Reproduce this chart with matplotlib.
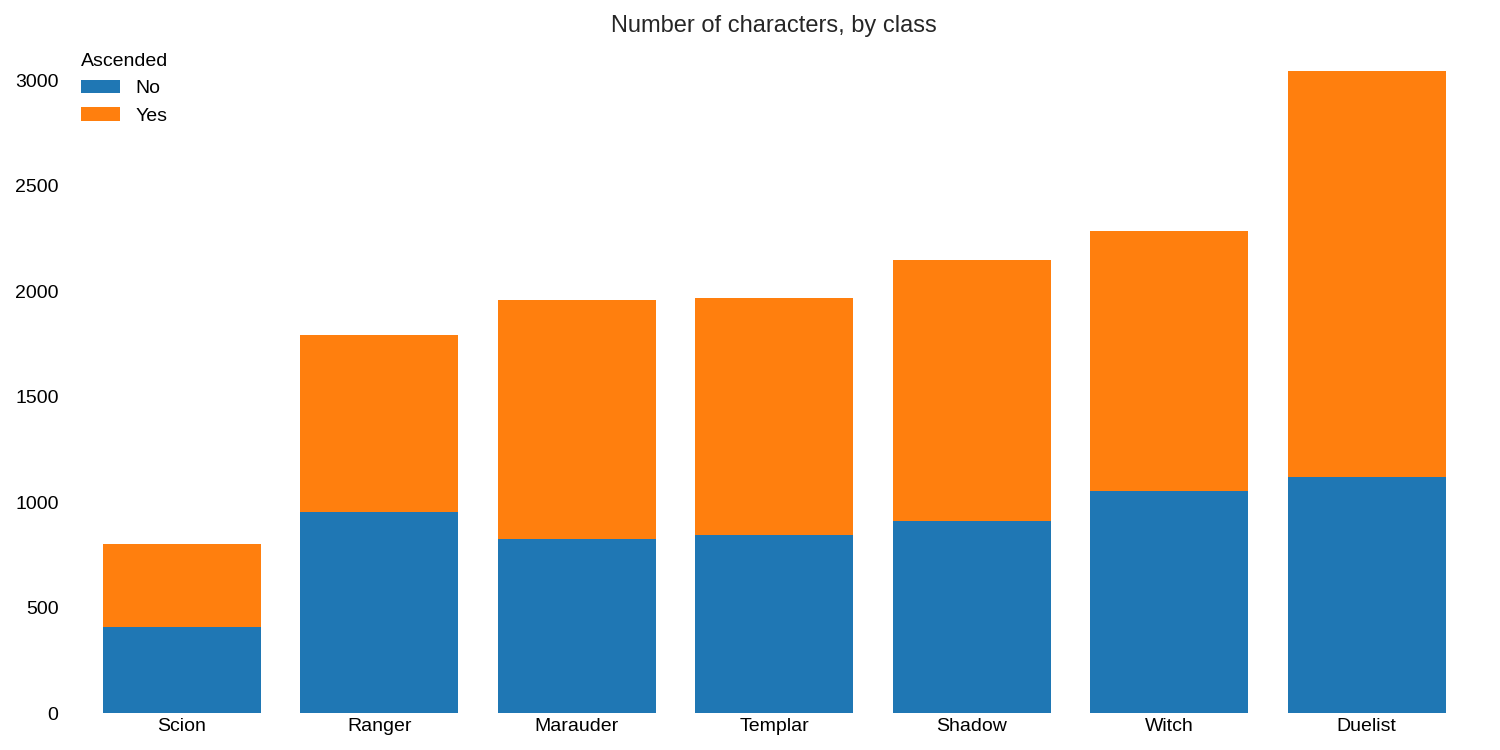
import matplotlib

matplotlib.use("Agg")
import matplotlib.pyplot as plt  # noqa: E402
import numpy as np  # noqa: E402

classes = ["Scion", "Ranger", "Marauder", "Templar", "Shadow", "Witch", "Duelist"]
not_ascended = [406, 955, 827, 846, 911, 1054, 1119]
totals = [802, 1792, 1960, 1970, 2148, 2287, 3044]
ascended = [t - n for t, n in zip(totals, not_ascended)]

plt.rcParams["font.family"] = ["Liberation Sans", "DejaVu Sans"]

fig, ax = plt.subplots(figsize=(15, 7.5), dpi=100)
x = np.arange(len(classes))
ax.bar(x, not_ascended, 0.8, color="#1f77b4", label="No")
ax.bar(x, ascended, 0.8, bottom=not_ascended, color="#ff7f0e", label="Yes")

ax.set_xticks(x)
ax.set_xticklabels(classes, fontsize=14)
ax.tick_params(axis="y", labelsize=14)
ax.tick_params(length=0)
ax.set_xlim(-0.6, 6.6)
ax.set_ylim(0, 3150)
for s in ax.spines.values():
    s.set_visible(False)
ax.set_title("Number of characters, by class", fontsize=17, pad=12, color="#262626")
leg = ax.legend(title="Ascended", loc="upper left", frameon=False, fontsize=14,
                title_fontsize=14, bbox_to_anchor=(0.0, 1.02))
plt.tight_layout()
plt.savefig("out.png", dpi=100)
plt.close()
